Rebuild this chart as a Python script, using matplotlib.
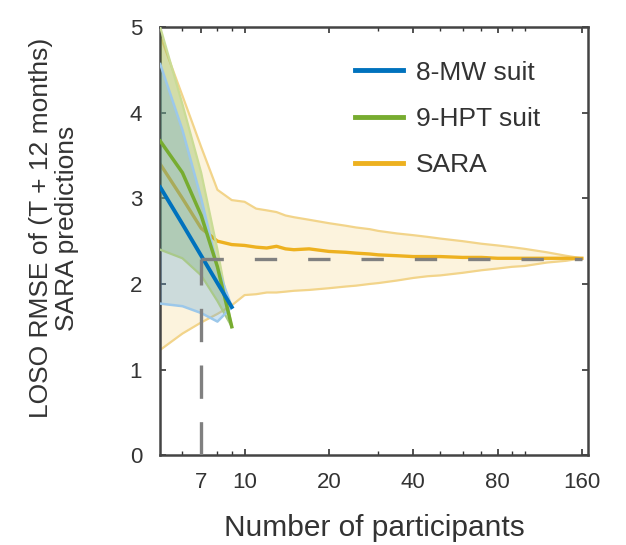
import numpy as np
import matplotlib
matplotlib.use('Agg')
import matplotlib.pyplot as plt
from matplotlib.ticker import FixedLocator, NullFormatter

plt.rcParams['font.family'] = ['Liberation Sans', 'DejaVu Sans']

# SARA (reference model) -- mean and band
sara_n = [5, 6, 7, 8, 9, 10, 11, 12, 13, 14, 15, 17, 20, 23, 25, 28, 30, 35, 40, 45, 50, 60, 70, 80, 90, 100, 120, 140, 160]
sara_mean = [3.40, 3.00, 2.65, 2.50, 2.46, 2.45, 2.43, 2.42, 2.44, 2.41, 2.40, 2.41, 2.38, 2.37, 2.36, 2.35, 2.34, 2.33, 2.32, 2.32, 2.32, 2.31, 2.31, 2.30, 2.30, 2.30, 2.30, 2.30, 2.30]
sara_hi = [4.90, 4.20, 3.60, 3.10, 2.98, 2.96, 2.88, 2.86, 2.84, 2.80, 2.78, 2.75, 2.71, 2.68, 2.66, 2.64, 2.62, 2.59, 2.57, 2.55, 2.53, 2.50, 2.47, 2.45, 2.43, 2.41, 2.37, 2.33, 2.30]
sara_lo = [1.23, 1.42, 1.55, 1.65, 1.75, 1.87, 1.88, 1.90, 1.90, 1.91, 1.92, 1.93, 1.95, 1.97, 1.98, 2.00, 2.01, 2.04, 2.07, 2.09, 2.10, 2.13, 2.16, 2.18, 2.20, 2.21, 2.25, 2.27, 2.30]

# suit models
suit_n = [5, 6, 7, 8, 9]
mw_mean = [3.13, 2.70, 2.33, 2.01, 1.73]
mw_hi = [4.57, 3.80, 3.00, 2.20, 1.73]
mw_lo = [1.77, 1.74, 1.66, 1.56, 1.73]
hpt_mean = [3.67, 3.30, 2.80, 2.20, 1.50]
hpt_hi = [5.00, 4.10, 3.30, 2.40, 1.50]
hpt_lo = [2.40, 2.30, 2.10, 1.80, 1.50]

ref_n = 7
ref_rmse = 2.29

blue = '#0072BD'
green = '#77AC30'
orange = '#EDB120'
txt = '#333333'

fig = plt.figure(figsize=(6.26, 5.45), dpi=100)
ax = fig.add_axes([0.256, 0.165, 0.683, 0.785])

# SARA
ax.fill_between(sara_n, sara_lo, sara_hi, color=orange, alpha=0.15, lw=0, zorder=1)
ax.plot(sara_n, sara_hi, color='#f2d48a', lw=1.6, zorder=1.5)
ax.plot(sara_n, sara_lo, color='#f2d48a', lw=1.6, zorder=1.5)
ax.plot(sara_n, sara_mean, color=orange, lw=2.4, label='SARA', zorder=2)

# 9-HPT
ax.fill_between(suit_n, hpt_lo, hpt_hi, color=green, alpha=0.3, lw=0, zorder=3)
ax.plot(suit_n, hpt_hi, color='#c9dc95', lw=1.6, zorder=3.5)
ax.plot(suit_n, hpt_lo, color='#a9c98a', lw=1.6, zorder=3.5)

# 8-MW
ax.fill_between(suit_n, mw_lo, mw_hi, color='#5fa4d8', alpha=0.3, lw=0, zorder=3)
ax.plot(suit_n, mw_hi, color='#9cc8ea', lw=1.8, zorder=3.5)
ax.plot(suit_n, mw_lo, color='#9cc8ea', lw=1.8, zorder=3.5)

ax.plot(suit_n, hpt_mean, color=green, lw=2.5, label='9-HPT suit', zorder=5)
ax.plot(suit_n, mw_mean, color=blue, lw=2.8, label='8-MW suit', zorder=6)

# reference crossing
ax.plot([ref_n, 160], [ref_rmse, ref_rmse], color='#808080', lw=2.4, ls=(0, (6.7, 9.3)), zorder=7)
ax.plot([ref_n, ref_n], [0, ref_rmse], color='#808080', lw=2.4, ls=(0, (10, 7)), zorder=7)

ax.set_xscale('log')
ax.set_xlim(5, 168)
ax.set_ylim(0, 5)
xt = [7, 10, 20, 40, 80, 160]
ax.xaxis.set_major_locator(FixedLocator(xt))
ax.set_xticklabels([str(v) for v in xt])
ax.xaxis.set_minor_locator(FixedLocator([6, 8, 9, 30, 50, 60, 70, 90, 100]))
ax.xaxis.set_minor_formatter(NullFormatter())
ax.set_yticks([0, 1, 2, 3, 4, 5])

ax.tick_params(which='both', direction='in', top=True, right=True, colors=txt,
               labelsize=16)
ax.tick_params(axis='x', pad=12)
ax.tick_params(axis='y', pad=13)
ax.tick_params(which='major', length=4, width=1.2)
ax.tick_params(which='minor', length=3, width=1.0)
for s in ax.spines.values():
    s.set_color('#444444')
    s.set_linewidth(1.8)

ax.set_xlabel('Number of participants', fontsize=21.5, color=txt, labelpad=15)
ax.set_ylabel('LOSO RMSE of (T + 12 months)\nSARA predictions', fontsize=19,
              color=txt, linespacing=1.1)
ax.yaxis.set_label_coords(-0.19, 0.53)

h, l = ax.get_legend_handles_labels()
order = [2, 1, 0]
leg = ax.legend([h[i] for i in order], [l[i] for i in order], loc='upper left',
                frameon=False, fontsize=19, handlelength=1.8, handletextpad=0.5,
                labelspacing=0.85, borderpad=0, borderaxespad=0,
                bbox_to_anchor=(0.456, 0.922))
for t in leg.get_texts():
    t.set_color(txt)
for ln in leg.get_lines():
    ln.set_linewidth(3.5)

fig.savefig('out.png', dpi=100)
